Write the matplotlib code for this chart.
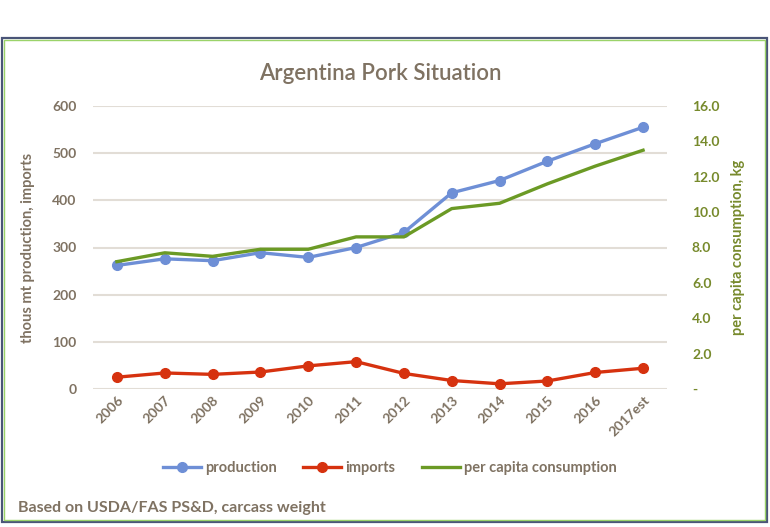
import matplotlib
matplotlib.use('Agg')
import matplotlib.pyplot as plt
from matplotlib.patches import Rectangle
from matplotlib.ticker import FuncFormatter, MultipleLocator

plt.rcParams['font.family'] = ['Lato', 'DejaVu Sans']

# data
years = ['2006', '2007', '2008', '2009', '2010', '2011',
         '2012', '2013', '2014', '2015', '2016', '2017est']
production = [262, 276, 272, 289, 279, 300, 332, 416, 442, 483, 520, 555]
imports = [25, 34, 31, 36, 49, 58, 33, 18, 11, 17, 35, 44]
per_capita = [7.2, 7.7, 7.5, 7.9, 7.9, 8.6, 8.6, 10.2, 10.5, 11.6, 12.6, 13.5]

txt_col = '#7f7262'
green_txt = '#778a2c'
c_prod = '#6e8fd6'
c_imp = '#d6320f'
c_pc = '#6b9a25'

fig = plt.figure(figsize=(7.7, 5.27), dpi=100)

# outer frame
W, H = 770, 527
fig.patches.append(Rectangle((2 / W, 1 - 522 / H), 765 / W, 484 / H,
                             transform=fig.transFigure, fill=False,
                             edgecolor='#4a5578', lw=1.6))
fig.patches.append(Rectangle((4 / W, 1 - 520 / H), 761 / W, 480 / H,
                             transform=fig.transFigure, fill=False,
                             edgecolor='#9bd36a', lw=1.0))

ax = fig.add_axes([93 / W, 1 - 389 / H, 574 / W, 283 / H])
x = range(len(years))

ax.plot(x, production, color=c_prod, lw=2.4, marker='o', ms=7, label='production', zorder=3)
ax.plot(x, imports, color=c_imp, lw=2.4, marker='o', ms=7, label='imports', zorder=3)
ax.set_ylim(0, 600)
ax.set_xlim(-0.5, 11.5)
ax.yaxis.set_major_locator(MultipleLocator(100))
ax.grid(axis='y', color='#e2ddd6', lw=1.5)
ax.set_axisbelow(True)
for s in ax.spines.values():
    s.set_visible(False)
ax.tick_params(length=0, colors=txt_col, labelsize=10)
ax.tick_params(axis='y', pad=12)
ax.set_xticks(list(x))
ax.set_xticklabels(years, rotation=45, ha='right', rotation_mode='anchor',
                   fontweight='bold', color=txt_col)
for lb in ax.get_yticklabels():
    lb.set_fontweight('bold')
ax.set_ylabel('thous mt production, imports', color=txt_col, fontsize=10.5,
              fontweight='bold', labelpad=12)

ax2 = ax.twinx()
ax2.plot(x, per_capita, color=c_pc, lw=2.4, label='per capita consumption', zorder=3)
ax2.set_ylim(0, 16)
ax2.yaxis.set_major_locator(MultipleLocator(2))
ax2.yaxis.set_major_formatter(FuncFormatter(lambda v, p: '-' if v == 0 else f'{v:.1f}'))
for s in ax2.spines.values():
    s.set_visible(False)
ax2.tick_params(length=0, colors=green_txt, labelsize=10, pad=18)
for lb in ax2.get_yticklabels():
    lb.set_fontweight('bold')
ax2.set_ylabel('per capita consumption, kg', color=green_txt, fontsize=10.5,
               fontweight='bold', labelpad=8)

ax.set_title('Argentina Pork Situation', color=txt_col, fontsize=16,
             fontweight='semibold', pad=19)

h1, l1 = ax.get_legend_handles_labels()
h2, l2 = ax2.get_legend_handles_labels()
fig.legend(h1 + h2, l1 + l2, loc='center', bbox_to_anchor=(390 / W, 1 - 468 / H),
           ncol=3, frameon=False, prop={'size': 10.5, 'weight': 'bold'},
           labelcolor=txt_col, handlelength=2.6, columnspacing=1.8,
           handletextpad=0.3)

fig.text(18 / W, 1 - 508 / H, 'Based on USDA/FAS PS&D, carcass weight',
         color=txt_col, fontsize=11.5, fontweight='bold', va='center')

fig.savefig('out.png', dpi=100)
